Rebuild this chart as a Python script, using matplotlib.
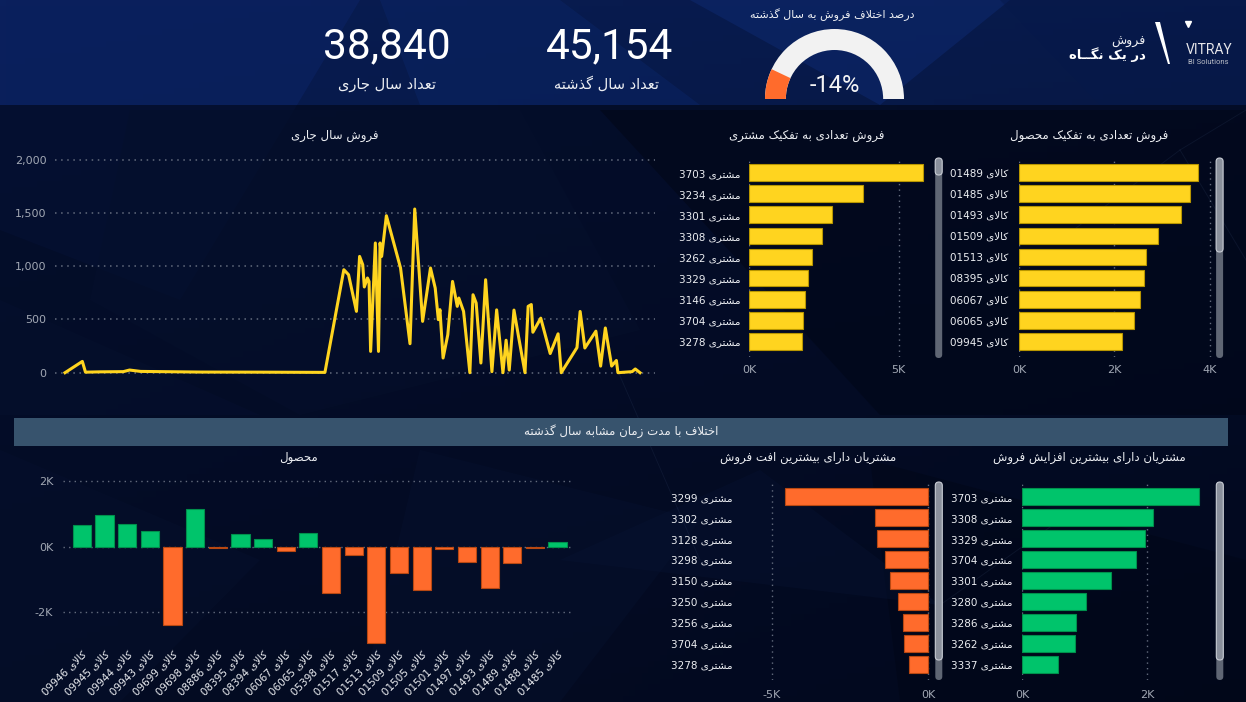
import re
import numpy as np
import matplotlib
matplotlib.use('Agg')
import matplotlib.pyplot as plt
from matplotlib.patches import Rectangle, Polygon, Wedge, FancyBboxPatch

plt.rcParams['font.family'] = ['DejaVu Sans']

# ---- data ----
kpi_current = 38840
kpi_last = 45154
gauge_pct = -14

line_days = [0, 11, 13, 22, 37, 41, 48, 86, 124, 165, 177, 180, 185, 187, 189, 190, 192, 193, 194,
             197, 199, 200, 201, 202, 204, 213, 219, 222, 227, 232, 235, 237, 238, 240, 243, 246,
             249, 250, 253, 257, 259, 261, 264, 267, 271, 274, 278, 280, 282, 285, 288, 292, 294,
             296, 297, 302, 308, 313, 315, 325, 327, 330, 337, 340, 343, 347, 350, 351, 360, 362, 365]
line_sales = [0, 106, 5, 8, 10, 25, 12, 6, 5, 3, 967, 920, 576, 1092, 1014, 805, 889, 857, 200,
              1218, 200, 1218, 1092, 1218, 1474, 983, 272, 1537, 482, 983, 795, 498, 592, 138, 357, 857,
              623, 701, 576, 0, 732, 654, 91, 873, 10, 590, 0, 305, 25, 588, 330, 0, 623,
              640, 380, 512, 180, 365, 0, 236, 575, 232, 390, 62, 420, 62, 115, 0, 10, 35, 0]

cust_names = ['3703', '3234', '3301', '3308', '3262', '3329', '3146', '3704', '3278']
cust_sales = [5.81, 3.82, 2.78, 2.44, 2.11, 1.96, 1.87, 1.82, 1.76]  # هزار

prod_names = ['01489', '01485', '01493', '01509', '01513', '08395', '06067', '06065', '09945']
prod_sales = [3.76, 3.58, 3.39, 2.91, 2.67, 2.62, 2.54, 2.42, 2.15]

diff_prod_names = ['09946', '09945', '09944', '09943', '09699', '09698', '08886', '08395', '08394',
                   '06067', '06065', '05398', '01517', '01513', '01509', '01505', '01501', '01497',
                   '01493', '01489', '01488', '01485']
diff_prod_values = [0.67, 0.97, 0.69, 0.47, -2.38, 1.15, -0.04, 0.38, 0.25, -0.12, 0.41, -1.43,
                    -0.24, -2.94, -0.79, -1.31, -0.08, -0.48, -1.26, -0.51, -0.03, 0.13]

drop_names = ['3299', '3302', '3128', '3298', '3150', '3250', '3256', '3704', '3278']
drop_values = [-4.60, -1.72, -1.64, -1.40, -1.22, -0.98, -0.82, -0.79, -0.61]

rise_names = ['3703', '3308', '3329', '3704', '3301', '3280', '3286', '3262', '3337']
rise_values = [2.82, 2.10, 1.96, 1.82, 1.42, 1.03, 0.87, 0.85, 0.57]

# ---- persian shaping (no arabic_reshaper here) ----
FORMS = {
    '\u0627': ('\uFE8D', '\uFE8E', None, None),
    '\u0622': ('\uFE81', '\uFE82', None, None),
    '\u0628': ('\uFE8F', '\uFE90', '\uFE91', '\uFE92'),
    '\u067E': ('\uFB56', '\uFB57', '\uFB58', '\uFB59'),
    '\u062A': ('\uFE95', '\uFE96', '\uFE97', '\uFE98'),
    '\u062B': ('\uFE99', '\uFE9A', '\uFE9B', '\uFE9C'),
    '\u062C': ('\uFE9D', '\uFE9E', '\uFE9F', '\uFEA0'),
    '\u0686': ('\uFB7A', '\uFB7B', '\uFB7C', '\uFB7D'),
    '\u062D': ('\uFEA1', '\uFEA2', '\uFEA3', '\uFEA4'),
    '\u062E': ('\uFEA5', '\uFEA6', '\uFEA7', '\uFEA8'),
    '\u062F': ('\uFEA9', '\uFEAA', None, None),
    '\u0630': ('\uFEAB', '\uFEAC', None, None),
    '\u0631': ('\uFEAD', '\uFEAE', None, None),
    '\u0632': ('\uFEAF', '\uFEB0', None, None),
    '\u0698': ('\uFB8A', '\uFB8B', None, None),
    '\u0633': ('\uFEB1', '\uFEB2', '\uFEB3', '\uFEB4'),
    '\u0634': ('\uFEB5', '\uFEB6', '\uFEB7', '\uFEB8'),
    '\u0635': ('\uFEB9', '\uFEBA', '\uFEBB', '\uFEBC'),
    '\u0636': ('\uFEBD', '\uFEBE', '\uFEBF', '\uFEC0'),
    '\u0637': ('\uFEC1', '\uFEC2', '\uFEC3', '\uFEC4'),
    '\u0638': ('\uFEC5', '\uFEC6', '\uFEC7', '\uFEC8'),
    '\u0639': ('\uFEC9', '\uFECA', '\uFECB', '\uFECC'),
    '\u063A': ('\uFECD', '\uFECE', '\uFECF', '\uFED0'),
    '\u0641': ('\uFED1', '\uFED2', '\uFED3', '\uFED4'),
    '\u0642': ('\uFED5', '\uFED6', '\uFED7', '\uFED8'),
    '\u06A9': ('\uFB8E', '\uFB8F', '\uFB90', '\uFB91'),
    '\u06AF': ('\uFB92', '\uFB93', '\uFB94', '\uFB95'),
    '\u0644': ('\uFEDD', '\uFEDE', '\uFEDF', '\uFEE0'),
    '\u0645': ('\uFEE1', '\uFEE2', '\uFEE3', '\uFEE4'),
    '\u0646': ('\uFEE5', '\uFEE6', '\uFEE7', '\uFEE8'),
    '\u0648': ('\uFEED', '\uFEEE', None, None),
    '\u0647': ('\uFEE9', '\uFEEA', '\uFEEB', '\uFEEC'),
    '\u06CC': ('\uFBFC', '\uFBFD', '\uFBFE', '\uFBFF'),
    '\u0640': ('\u0640', '\u0640', '\u0640', '\u0640'),
}
LAM_ALEF = {'\u0627': ('\uFEFB', '\uFEFC'), '\u0622': ('\uFEF5', '\uFEF6')}


def fa(text):
    chars = list(text)
    out = []
    i = 0
    while i < len(chars):
        c = chars[i]
        prev = chars[i - 1] if i > 0 else None
        nxt = chars[i + 1] if i + 1 < len(chars) else None
        if c not in FORMS:
            out.append(c)
            i += 1
            continue
        joins_prev = prev in FORMS and FORMS[prev][2] is not None
        if c == '\u0644' and nxt in LAM_ALEF:
            out.append(LAM_ALEF[nxt][1 if joins_prev else 0])
            i += 2
            continue
        joins_next = nxt in FORMS and FORMS[c][2] is not None
        iso, fin, ini, med = FORMS[c]
        if joins_prev and joins_next:
            out.append(med)
        elif joins_prev:
            out.append(fin)
        elif joins_next:
            out.append(ini)
        else:
            out.append(iso)
        i += 1
    rev = ''.join(out)[::-1]
    return re.sub(r'[0-9A-Za-z%.,\-]+', lambda m: m.group(0)[::-1], rev)


# ---- figure / pixel helpers ----
W, H = 1246, 702
fig = plt.figure(figsize=(W / 100, H / 100), dpi=100)


def box(l, t, r, b):
    return [l / W, 1 - b / H, (r - l) / W, (b - t) / H]


YELLOW = '#ffd41f'
ORANGE = '#ff6b2c'
GREEN = '#00c46b'
GRID = '#646c7e'
TICK = '#a2a8b4'
TXT = '#eceef2'

# background
bg = fig.add_axes([0, 0, 1, 1])
bg.set_xlim(0, W)
bg.set_ylim(H, 0)
bg.axis('off')
tl, tr = np.array([8, 28, 82]), np.array([8, 26, 74])
bl, br = np.array([8, 22, 60]), np.array([4, 14, 44])
u = np.linspace(0, 1, 200)[None, :, None]
v = np.linspace(0, 1, 120)[:, None, None]
grad = (tl * (1 - u) * (1 - v) + tr * u * (1 - v) + bl * (1 - u) * v + br * u * v) / 255
bg.imshow(grad, extent=(0, W, H, 0), aspect='auto', zorder=0)

polys = [
    ([(0, 0), (360, 0), (180, 300), (0, 230)], '#0c2468', 0.5),
    ([(690, 0), (1010, 0), (880, 105)], '#0e2a72', 0.5),
    ([(380, 0), (560, 0), (700, 105), (420, 105)], '#0b2668', 0.45),
    ([(600, 110), (1246, 110), (1246, 415), (880, 415)], '#02081a', 0.55),
    ([(130, 110), (520, 110), (640, 330), (300, 415), (90, 300)], '#0c2050', 0.5),
    ([(0, 300), (260, 415), (0, 415)], '#0e2256', 0.45),
    ([(420, 450), (700, 520), (560, 702), (360, 702)], '#0e2254', 0.45),
    ([(870, 460), (1246, 560), (1246, 702), (900, 702)], '#020818', 0.45),
    ([(0, 450), (260, 560), (120, 702), (0, 702)], '#0e2254', 0.4),
    ([(1000, 0), (1246, 0), (1246, 105), (1100, 105)], '#06184a', 0.45),
    ([(560, 560), (760, 470), (940, 605)], '#10285e', 0.4),
]
for pts, col, a in polys:
    bg.add_patch(Polygon(pts, closed=True, facecolor=col, edgecolor='none', alpha=a, zorder=1))
for (x0, y0), (x1, y1) in [((1180, 150), (1246, 110)), ((1180, 150), (1246, 260)),
                           ((1060, 240), (1180, 150)), ((600, 330), (700, 560)),
                           ((940, 605), (1060, 520))]:
    bg.plot([x0, x1], [y0, y1], color='#6a8cc8', lw=0.6, alpha=0.25, zorder=1)

# darkened body under the header + separator band
bg.add_patch(Rectangle((0, 105), W, H - 105, facecolor='#010514', alpha=0.6, zorder=2))
bg.add_patch(Rectangle((14, 418), 1214, 28, facecolor='#37536d', edgecolor='none', zorder=2))
bg.text(621, 431, fa('اختلاف با مدت زمان مشابه سال گذشته'), color=TXT, fontsize=8.5,
        ha='center', va='center', zorder=3)

# ---- KPI header ----
bg.text(387, 47, f'{kpi_current:,}', family=['Roboto', 'DejaVu Sans'], fontsize=30.5,
        color='white', ha='center', va='center', zorder=3)
bg.text(387, 84, fa('تعداد سال جاری'), fontsize=10.5, color=TXT, ha='center', va='center', zorder=3)
bg.text(610, 47, f'{kpi_last:,}', family=['Roboto', 'DejaVu Sans'], fontsize=30.5,
        color='white', ha='center', va='center', zorder=3)
bg.text(606, 84, fa('تعداد سال گذشته'), fontsize=10.5, color=TXT, ha='center', va='center', zorder=3)
bg.text(832, 15, fa('درصد اختلاف فروش به سال گذشته'), fontsize=8, color=TXT,
        ha='center', va='center', zorder=3)

gax = fig.add_axes(box(765, 29, 904, 99))
gax.set_xlim(-1, 1)
gax.set_ylim(0, 1)
gax.axis('off')
span = abs(gauge_pct) / 100 * 180
gax.add_patch(Wedge((0, 0), 1, 0, 180, width=0.3, facecolor='#f2f2f2', edgecolor='none'))
gax.add_patch(Wedge((0, 0), 1, 180 - span, 180, width=0.3, facecolor=ORANGE, edgecolor='none'))
bg.text(835, 86, f'{gauge_pct}%', family=['Roboto', 'DejaVu Sans'], fontsize=17,
        color='#f4f4f4', ha='center', va='center', zorder=3)

# logo
bg.add_patch(Polygon([(1155, 22), (1160, 22), (1170, 64), (1168, 64)], closed=True,
                     facecolor='white', edgecolor='none', zorder=3))
bg.plot([1188], [24], marker='v', color='white', markersize=4, zorder=3)
bg.text(1209, 50, 'VITRAY', family=['Roboto', 'DejaVu Sans'], fontsize=10, color='#e6e6ea',
        ha='center', va='center', zorder=3)
bg.text(1208, 62, 'BI Solutions', family=['Roboto', 'DejaVu Sans'], fontsize=5.5,
        color='#b8bcc6', ha='center', va='center', zorder=3)
bg.text(1145, 41, fa('فروش'), fontsize=9, color=TXT, ha='right', va='center', zorder=3)
bg.text(1146, 55, fa('در یک نگــاه'), fontsize=9.5, fontweight='bold', color='white',
        ha='right', va='center', zorder=3)

# ---- panel titles ----
for x, y, t in [(335, 135, 'فروش سال جاری'),
                (807, 135, 'فروش تعدادی به تفکیک مشتری'),
                (1089, 135, 'فروش تعدادی به تفکیک محصول'),
                (298, 458, 'محصول'),
                (808, 458, 'مشتریان دارای بیشترین افت فروش'),
                (1089, 458, 'مشتریان دارای بیشترین افزایش فروش')]:
    bg.text(x, y, fa(t), fontsize=8.5, color=TXT, ha='center', va='center', zorder=3)


def style(ax):
    ax.patch.set_alpha(0)
    for s in ax.spines.values():
        s.set_visible(False)
    ax.tick_params(length=0, colors=TICK, labelsize=8)


# ---- line chart: current year sales ----
lax = fig.add_axes(box(55, 150, 655, 382))
style(lax)
lax.plot(line_days, line_sales, color=YELLOW, lw=2.2, zorder=3, solid_joinstyle='round')
px_day = 575 / 365
lax.set_xlim(-10 / px_day, 590 / px_day)
lax.set_ylim(-9.3 / 0.1065, 222.7 / 0.1065)
lax.set_xticks([])
lax.set_yticks([0, 500, 1000, 1500, 2000])
lax.set_yticklabels([f'{v:,}' for v in [0, 500, 1000, 1500, 2000]])
lax.tick_params(axis='y', pad=6)
lax.grid(axis='y', color=GRID, linestyle=(0, (1, 3)), lw=1.1)


def hbar(bx, names, prefix, values, color, edge, xlim, ticks, tlabels, lpad, tpad):
    ax = fig.add_axes(box(*bx))
    style(ax)
    y = np.arange(len(values))
    ax.barh(y, values, height=0.8, color=color, edgecolor=edge, linewidth=0.8, zorder=3)
    ax.set_ylim(len(values) - 0.25, -0.75)
    ax.set_xlim(*xlim)
    ax.set_yticks(y)
    ax.set_yticklabels([fa(prefix + ' ' + n) for n in names], color=TXT, fontsize=7.5)
    ax.tick_params(axis='y', pad=lpad)
    ax.tick_params(axis='x', pad=tpad)
    ax.set_xticks(ticks)
    ax.set_xticklabels(tlabels)
    ax.grid(axis='x', color=GRID, linestyle=(0, (1, 3)), lw=1.0)
    ax.set_axisbelow(True)
    return ax


# label pads in points (px * 0.72)
hbar((749, 157, 930, 357), cust_names, 'مشتری', cust_sales, YELLOW, '#b89600',
     (0, 181 / 29.9), [0, 5], ['0K', '5K'], 6, 6)
hbar((1019, 157, 1212, 357), prod_names, 'کالای', prod_sales, YELLOW, '#b89600',
     (0, 193 / 47.7), [0, 2, 4], ['0K', '2K', '4K'], 7.5, 6)
hbar((770, 481, 930, 680), drop_names, 'مشتری', drop_values, ORANGE, '#b84812',
     (-158.3 / 31.26, 1.7 / 31.26), [-5, 0], ['-5K', '0K'], 27, 7)
hbar((1022, 481, 1205, 680), rise_names, 'مشتری', rise_values, GREEN, '#00904c',
     (0, 183 / 62.6), [0, 2], ['0K', '2K'], 7, 7)

# scrollbars
for x, t, b, tb in [(938.7, 158, 358, 175), (1219.6, 158, 358, 252),
                    (938.8, 482, 680, 660), (1219.8, 482, 680, 660)]:
    bg.add_patch(FancyBboxPatch((x - 3.5, t), 7, b - t, boxstyle='round,pad=0,rounding_size=3.5',
                                facecolor='#5f6674', edgecolor='none', zorder=3))
    bg.add_patch(FancyBboxPatch((x - 3.5, t), 7, tb - t, boxstyle='round,pad=0,rounding_size=3.5',
                                facecolor='#8a909c', edgecolor='#c8ccd4', lw=0.8, zorder=4))

# ---- product difference columns ----
dax = fig.add_axes(box(63, 470, 574, 645))
style(dax)
xs = np.arange(len(diff_prod_values))
cols = [GREEN if v >= 0 else ORANGE for v in diff_prod_values]
edges = ['#00904c' if v >= 0 else '#b84812' for v in diff_prod_values]
dax.bar(xs, diff_prod_values, width=0.8, color=cols, edgecolor=edges, linewidth=0.8, zorder=3)
step = 22.65
dax.set_xlim(-18.9 / step, (574 - 81.9) / step)
dax.set_ylim(-98.3 / 32.7, 76.7 / 32.7)
dax.set_yticks([-2, 0, 2])
dax.set_yticklabels(['-2K', '0K', '2K'])
dax.tick_params(axis='y', pad=7)
dax.set_xticks(xs)
dax.set_xticklabels([fa('کالای ' + n) for n in diff_prod_names], rotation=45, ha='right',
                    rotation_mode='anchor', color=TXT, fontsize=7.5)
dax.tick_params(axis='x', pad=3)
dax.grid(axis='y', color=GRID, linestyle=(0, (1, 3)), lw=1.0)
dax.set_axisbelow(True)

fig.savefig('out.png', dpi=100)
